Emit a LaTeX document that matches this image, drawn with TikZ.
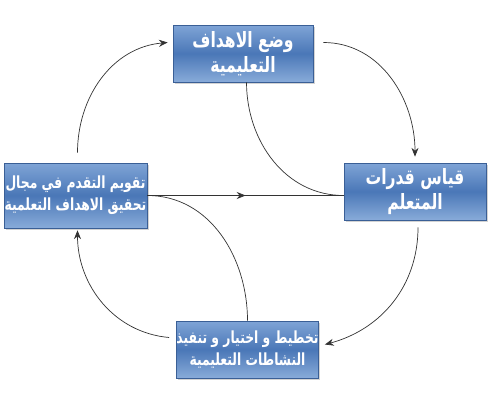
\documentclass[tikz,border=0pt]{standalone}
\usepackage{fontspec}
\usetikzlibrary{arrows.meta,shadows,decorations.markings}
\newfontfamily\arabicfont[Script=Arabic,FakeStretch=0.74]{DejaVu Sans}
\TeXXeTstate=1
\newcommand{\rl}[1]{\beginR #1\endR}
\definecolor{boxtop}{HTML}{7FA4D6}
\definecolor{boxmid}{HTML}{4A77B7}
\definecolor{boxbot}{HTML}{88ABD9}
\definecolor{boxedge}{HTML}{3A5F96}
\definecolor{linegray}{HTML}{333333}
\tikzset{
  goalbox/.style={rectangle, draw=boxedge, thin, inner sep=0pt,
    top color=boxtop, bottom color=boxbot, middle color=boxmid,
    minimum width=2.8cm, minimum height=1.14cm, align=center,
    text=white, font=\arabicfont\bfseries\fontsize{9.5}{12.5}\selectfont,
    drop shadow={shadow xshift=1pt, shadow yshift=-1.2pt, opacity=0.35}},
  bigtext/.style={font=\arabicfont\bfseries\fontsize{12}{14}\selectfont},
  midarrow/.style={decoration={markings,
    mark=at position 0.5 with {\arrow{Stealth[length=5pt,width=4pt]}}},
    postaction={decorate}}
}
\begin{document}
\begin{tikzpicture}[x=0.02cm,y=0.02cm,>={Stealth[length=5pt,width=4pt]}]
\useasboundingbox (0,0) rectangle (492,409);

\begin{scope}[every node/.style={goalbox}]
\node (goal) at (243,355.5) [bigtext] {\rl{وضع الاهداف}\\\rl{التعليمية}};
\node (meas) at (415,217.5) [bigtext, minimum width=2.84cm] {\rl{قياس قدرات}\\\rl{المتعلم}};
\node (plan) at (247.5,59.5) [minimum width=2.82cm] {\rl{تخطيط و اختيار و تنفيذ}\\\rl{النشاطات التعليمية}};
\node (eval) at (75.5,213.5) [minimum width=2.86cm, minimum height=1.3cm] {\rl{تقويم التقدم في مجال}\\\rl{تحقيق الاهداف التعلمية}};
\end{scope}

\begin{scope}[thin,draw=linegray,->]
\draw ([shift={(10,11)}]goal.east) to[out=0,in=90] ([shift={(0,6)}]meas.north);
\draw ([shift={(3,-7)}]meas.south) to[out=-90,in=15] ([shift={(6,5)}]plan.east);
\draw ([shift={(-7,12)}]plan.west) to[out=175,in=-90] ([shift={(2,-2)}]eval.south);
\draw ([shift={(2,10)}]eval.north) to[out=90,in=185] ([shift={(-5,11)}]goal.west);
\end{scope}

\draw [thin,draw=linegray,midarrow] (eval.east) -- (eval.east -| meas.west);
\draw [thin,draw=linegray] ([xshift=2pt]goal.south) to[out=-90,in=180] (eval.east -| meas.west);
\draw [thin,draw=linegray] (eval.east) to[out=0,in=90] (plan.north);
\end{tikzpicture}
\end{document}
